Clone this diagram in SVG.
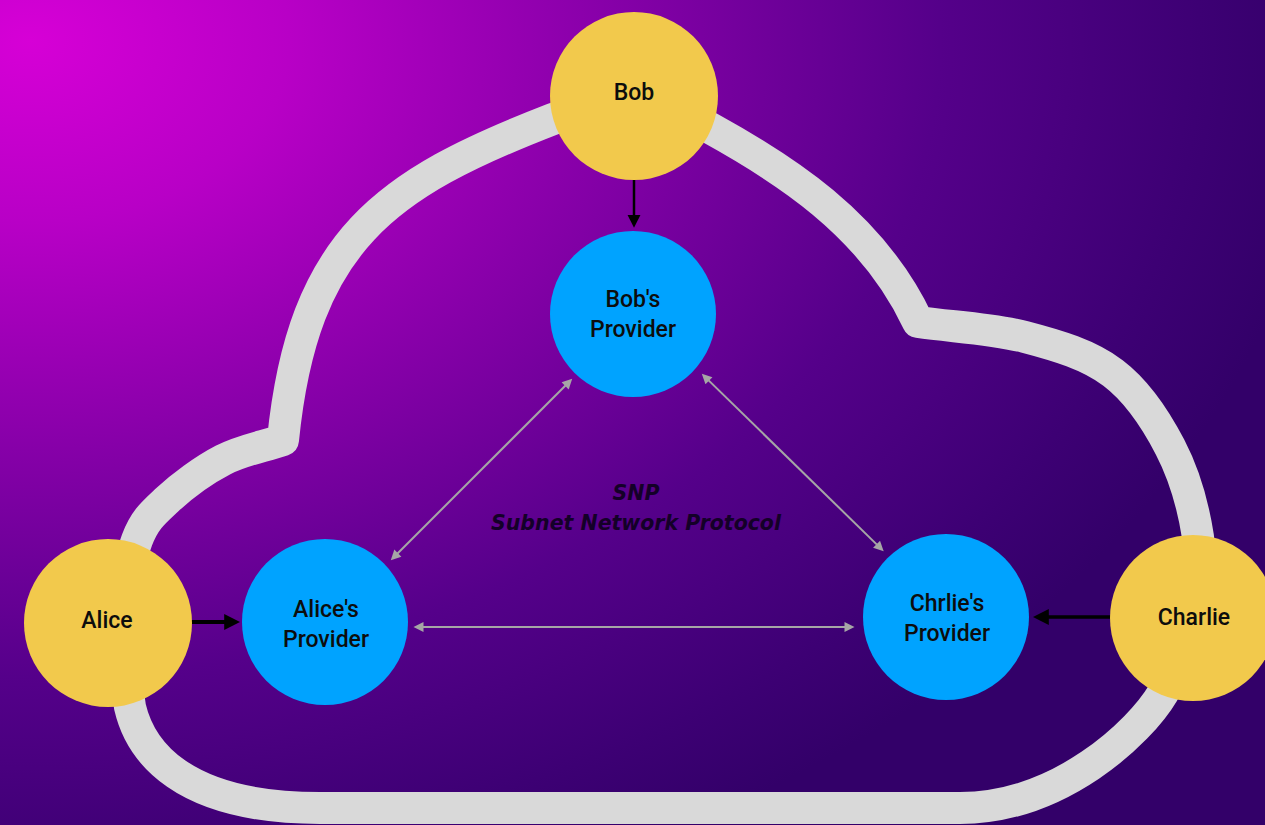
<svg xmlns="http://www.w3.org/2000/svg" width="1265" height="825" viewBox="0 0 1265 825">
  <defs>
    <radialGradient id="bg" gradientUnits="userSpaceOnUse" cx="30" cy="40" r="1300" gradientTransform="translate(30,40) scale(1,0.7) translate(-30,-40)">
      <stop offset="0" stop-color="#d600d6"/>
      <stop offset="0.2" stop-color="#b800c6"/>
      <stop offset="0.45" stop-color="#8600a8"/>
      <stop offset="0.7" stop-color="#55008a"/>
      <stop offset="0.9" stop-color="#3d0074"/>
      <stop offset="1" stop-color="#330069"/>
    </radialGradient>
    <marker id="arr-s" viewBox="0 0 10 10" refX="0.5" refY="5" markerWidth="13" markerHeight="14" markerUnits="userSpaceOnUse" orient="auto">
      <path d="M0,0 L10,5 L0,10 z" fill="#000"/>
    </marker>
    <marker id="arr-l" viewBox="0 0 10 10" refX="0.5" refY="5" markerWidth="16" markerHeight="17" markerUnits="userSpaceOnUse" orient="auto">
      <path d="M0,0 L10,5 L0,10 z" fill="#000"/>
    </marker>
    <marker id="arr-g" viewBox="0 0 10 10" refX="0.5" refY="5" markerWidth="12" markerHeight="10" markerUnits="userSpaceOnUse" orient="auto-start-reverse">
      <path d="M0,0 L10,5 L0,10 z" fill="#a6a6a6"/>
    </marker>
    <style>
      .cloud { fill: none; stroke: #d9d9d9; stroke-width: 32; stroke-linejoin: round; }
      .user { fill: #f2c94c; }
      .prov { fill: #00a3ff; }
      .lbl { font-family: Roboto, "Liberation Sans", sans-serif; font-size: 23px; font-weight: 500; fill: #0d0d0d; text-anchor: middle; }
      .proto { font-family: "DejaVu Sans", "Liberation Sans", sans-serif; font-size: 20.5px; font-weight: bold; font-style: italic; fill: #140028; text-anchor: middle; }
      .blk { stroke: #000; fill: none; }
      .gry { stroke: #a6a6a6; stroke-width: 2; fill: none; }
    </style>
  </defs>

  <rect x="0" y="0" width="1265" height="825" fill="url(#bg)"/>

  <g id="cloud">
    <path class="cloud" d="M283,440
      C303,240 385.6,183.8 553,119
      C599.5,101 666,104 710,128
      C780,166.6 871.8,223 918,322
      C953.7,327 992.5,328.5 1025,337
      C1057.5,345.5 1088.8,354.7 1113,373
      C1137.2,391.3 1155.8,419.7 1170,447
      C1184.2,474.3 1193.7,509 1198,537
      C1202.3,565 1201.8,589 1196,615
      C1190.2,641 1175.7,671.7 1163,693
      C1140,732 1060,808 960,808
      L320,808
      C180,808 140,750 130,707
      C127,685.3 120.8,647.8 122,620
      C123.2,592.2 129.5,560 137,540
      C144.5,520 152.7,513.3 167,500
      C181.3,486.7 203.7,470 223,460
      C242.3,450 263,446.7 283,440 Z"/>
  </g>

  <g id="connectors">
    <line class="blk" x1="634" y1="180" x2="634" y2="215.5" stroke-width="2.5" marker-end="url(#arr-s)"/>
    <line class="blk" x1="191" y1="622" x2="225" y2="622" stroke-width="4" marker-end="url(#arr-l)"/>
    <line class="blk" x1="1111" y1="617" x2="1048" y2="617" stroke-width="3.5" marker-end="url(#arr-l)"/>
    <line class="gry" x1="565.5" y1="385.5" x2="397.5" y2="553.5" marker-start="url(#arr-g)" marker-end="url(#arr-g)"/>
    <line class="gry" x1="708.6" y1="380.4" x2="876.9" y2="544.6" marker-start="url(#arr-g)" marker-end="url(#arr-g)"/>
    <line class="gry" x1="423" y1="627" x2="845" y2="627" marker-start="url(#arr-g)" marker-end="url(#arr-g)"/>
  </g>

  <g id="bob">
    <circle class="user" cx="634" cy="96" r="84"/>
    <text class="lbl" x="634" y="100">Bob</text>
  </g>
  <g id="bobs-provider">
    <circle class="prov" cx="633" cy="314" r="83"/>
    <text class="lbl" x="633" y="307">Bob's</text>
    <text class="lbl" x="633" y="337">Provider</text>
  </g>
  <g id="alice">
    <circle class="user" cx="108" cy="623" r="84"/>
    <text class="lbl" x="107" y="628">Alice</text>
  </g>
  <g id="alices-provider">
    <circle class="prov" cx="325" cy="622" r="83"/>
    <text class="lbl" x="326" y="617">Alice's</text>
    <text class="lbl" x="326" y="647">Provider</text>
  </g>
  <g id="chrlies-provider">
    <circle class="prov" cx="946" cy="617" r="83"/>
    <text class="lbl" x="947" y="611">Chrlie's</text>
    <text class="lbl" x="947" y="641">Provider</text>
  </g>
  <g id="charlie">
    <circle class="user" cx="1193" cy="618" r="83"/>
    <text class="lbl" x="1194" y="625">Charlie</text>
  </g>

  <g id="protocol-label">
    <text class="proto" x="636" y="500">SNP</text>
    <text class="proto" x="636" y="530">Subnet Network Protocol</text>
  </g>
</svg>
